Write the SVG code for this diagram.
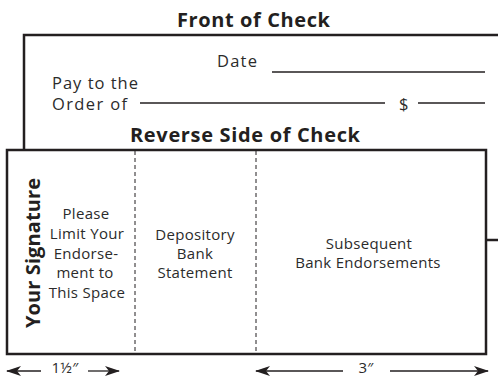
<svg xmlns="http://www.w3.org/2000/svg" width="498" height="378" viewBox="0 0 498 378">
<defs>
<style>
.t{font-family:"Open Sans","Liberation Sans",sans-serif;fill:#231f20}
.title{font-size:20px;font-weight:700}
.lbl{font-size:16.5px;fill:#2b2b2b}
.body{font-size:15px;letter-spacing:0.3px;fill:#2b2b2b}
.edge{fill:none;stroke:#231f20;stroke-width:2.5}
.thin{fill:none;stroke:#231f20;stroke-width:1.3}
.dash{fill:none;stroke:#231f20;stroke-width:1;stroke-dasharray:4 3}
.arr{fill:none;stroke:#231f20;stroke-width:1.3}
</style>
<marker id="ah" viewBox="0 0 15 10" refX="14" refY="5" markerWidth="15" markerHeight="10" markerUnits="userSpaceOnUse" orient="auto-start-reverse">
<path d="M0,0 L15,5 L0,10 L4,5 Z" fill="#231f20"/>
</marker>
</defs>
<rect width="498" height="378" fill="#fff"/>
<g id="front">
<polyline class="edge" points="24,150 24,35 498,35"/>
<line class="edge" x1="486" y1="240" x2="498" y2="240"/>
<text class="t title" x="177" y="27" textLength="153" lengthAdjust="spacing">Front of Check</text>
<text class="t lbl" x="217" y="67" textLength="40" lengthAdjust="spacing">Date</text>
<line class="thin" x1="272" y1="72" x2="485" y2="72"/>
<text class="t lbl" x="52" y="89" textLength="86" lengthAdjust="spacing">Pay to the</text>
<text class="t lbl" x="52" y="110" textLength="75" lengthAdjust="spacing">Order of</text>
<text class="t lbl" x="399" y="110">$</text>
<line class="thin" x1="140" y1="103" x2="385" y2="103"/>
<line class="thin" x1="418" y1="103" x2="485" y2="103"/>
</g>
<g id="reverse">
<text class="t title" x="130" y="142" textLength="230" lengthAdjust="spacing">Reverse Side of Check</text>
<rect class="edge" x="7" y="150" width="479" height="204" fill="#fff"/>
<line class="dash" x1="135" y1="151" x2="135" y2="353"/>
<line class="dash" x1="256" y1="151" x2="256" y2="353"/>
</g>
<g id="signature">
<text class="t" font-size="20" font-weight="700" transform="translate(40,328) rotate(-90)" textLength="150" lengthAdjust="spacing">Your Signature</text>
</g>
<g id="limit">
<text class="t body" text-anchor="middle"><tspan x="86" y="219">Please</tspan><tspan x="87" y="239">Limit Your</tspan><tspan x="86" y="259">Endorse-</tspan><tspan x="85" y="278">ment to</tspan><tspan x="87" y="298">This Space</tspan></text>
</g>
<g id="depository">
<text class="t body" text-anchor="middle"><tspan x="195" y="240">Depository</tspan><tspan x="195" y="259">Bank</tspan><tspan x="195" y="278">Statement</tspan></text>
</g>
<g id="subsequent">
<text class="t body" text-anchor="middle"><tspan x="369" y="249">Subsequent</tspan><tspan x="368" y="268">Bank Endorsements</tspan></text>
</g>
<g id="connectors">
<line class="arr" x1="41" y1="371" x2="7" y2="371" marker-end="url(#ah)"/>
<line class="arr" x1="88" y1="371" x2="119" y2="371" marker-end="url(#ah)"/>
<line class="arr" x1="343" y1="371" x2="256" y2="371" marker-end="url(#ah)"/>
<line class="arr" x1="390" y1="371" x2="488" y2="371" marker-end="url(#ah)"/>
</g>
<g id="dims">
<text class="t body" x="65" y="373" text-anchor="middle">1½″</text>
<text class="t body" x="366" y="373" text-anchor="middle">3″</text>
</g>
</svg>
